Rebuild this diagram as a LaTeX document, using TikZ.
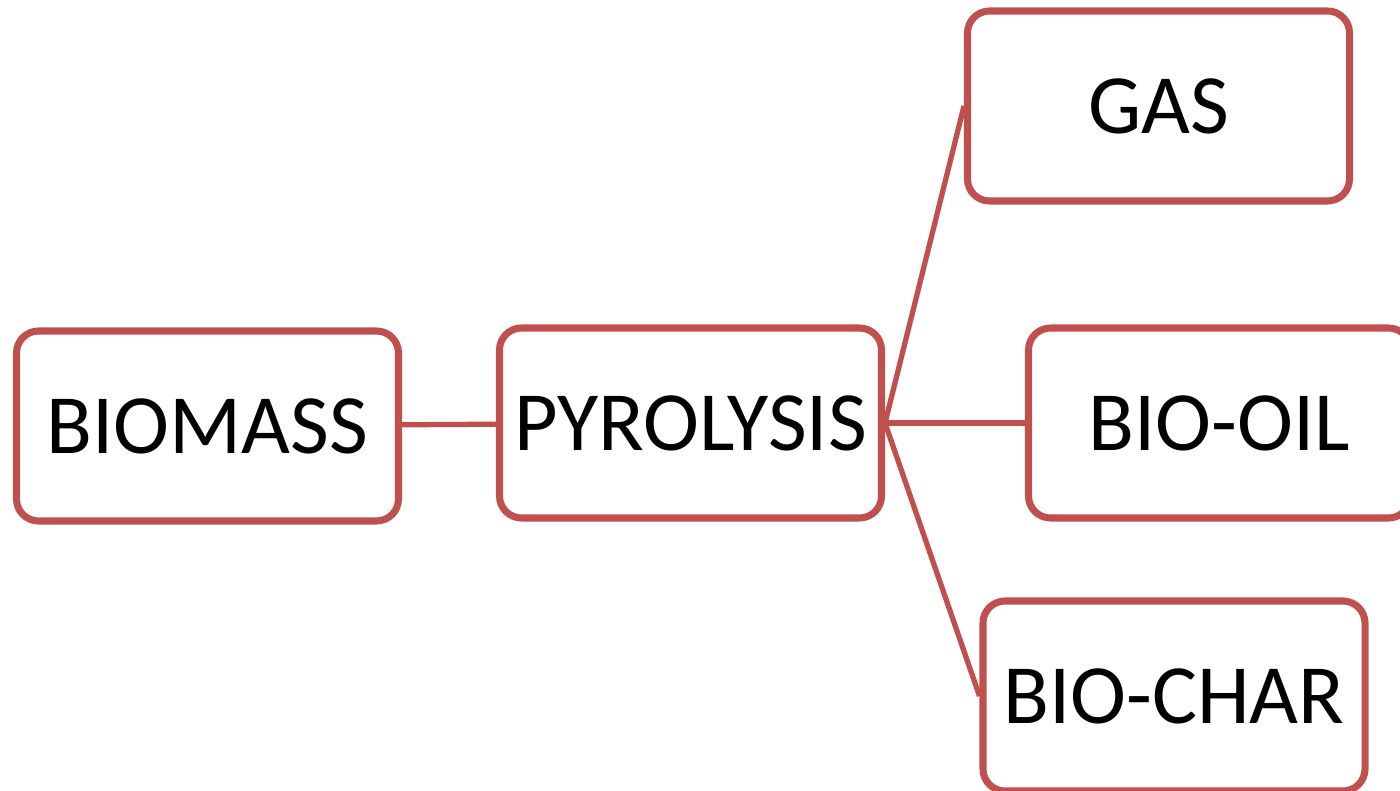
\documentclass[tikz,border=0pt]{standalone}
\usepackage{fontspec}
\setmainfont{Carlito}
\usepackage{xcolor}
\usepackage{tikz}
\usetikzlibrary{positioning,calc}

\definecolor{boxred}{HTML}{C0504D}

\begin{document}
\begin{tikzpicture}[
    stage/.style={rectangle, draw=boxred, line width=2pt, fill=white, minimum width=3.82cm, minimum height=1.90cm, rounded corners=0.22cm, font=\fontsize{24}{28}\selectfont, inner sep=0pt},
    link/.style={draw=boxred, line width=1.5pt}
]
\clip (0,0) rectangle (14,7.91);

% Feed and process
\node[stage] (biomass) at (2.075,3.65) {BIOMASS};
\node[stage] (pyrolysis) at (6.905,3.68) {PYROLYSIS};

% Products
\node[stage] (gas) at (11.585,6.85) {GAS};
\node[stage] (biooil) at (12.195,3.68) {BIO-OIL};
\node[stage] (biochar) at (11.74,0.95) {BIO-CHAR};

% Links
\draw[link] (biomass) -- (pyrolysis);
\draw[link] (pyrolysis.east) -- (gas.west);
\draw[link] (pyrolysis.east) -- (biooil.west);
\draw[link] (pyrolysis.east) -- (biochar.west);

\end{tikzpicture}
\end{document}
